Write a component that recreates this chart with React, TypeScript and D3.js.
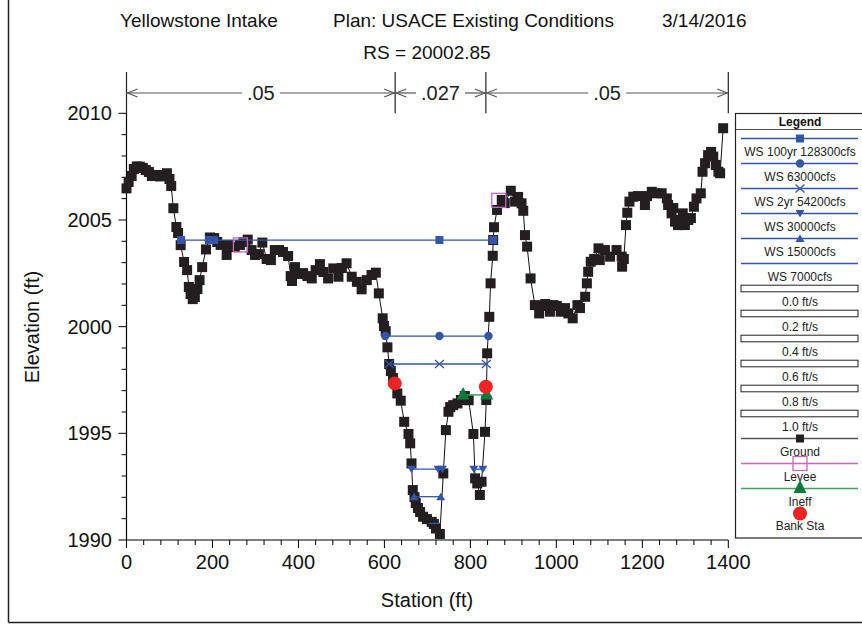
import React from 'react';
import * as d3 from 'd3';

// ---------- DATA ----------
const titleParts = ['Yellowstone Intake', 'Plan: USACE Existing Conditions', '3/14/2016'];
const subtitle = 'RS = 20002.85';
const xAxisTitle = 'Station (ft)';
const yAxisTitle = 'Elevation (ft)';

const xTicks = [0, 200, 400, 600, 800, 1000, 1200, 1400];
const yTicks = [1990, 1995, 2000, 2005, 2010];

const groundStation = [
  0, 5, 12, 17, 24, 31, 38, 45, 52, 59,
  69, 78, 87, 94, 100, 104, 109, 116, 120, 126,
  134, 141, 145, 149, 154, 159, 165, 170, 176, 185,
  194, 204, 211, 219, 233, 238, 252, 264, 272, 282,
  291, 299, 308, 316, 326, 336, 345, 355, 364, 376,
  382, 385, 392, 400, 411, 421, 431, 440, 450, 458,
  469, 481, 493, 501, 512, 524, 536, 547, 559, 570,
  580, 587, 596, 599, 603, 607, 611, 615, 620, 630,
  638, 646, 656, 660, 663, 666, 670, 673, 678, 683,
  690, 699, 710, 715, 720, 729, 737, 743, 749, 753,
  760, 770, 778, 787, 796, 807, 811, 816, 822, 826,
  834, 837, 839, 844, 847, 852, 853, 855, 862, 873,
  880, 894, 904, 911, 919, 923, 927, 932, 940, 950,
  960, 967, 974, 985, 993, 1001, 1010, 1020, 1028, 1038,
  1049, 1055, 1067, 1071, 1074, 1080, 1088, 1098, 1101, 1113,
  1125, 1140, 1152, 1153, 1157, 1162, 1165, 1170, 1179, 1190,
  1206, 1211, 1222, 1233, 1245, 1257, 1260, 1268, 1272, 1276,
  1283, 1288, 1294, 1299, 1307, 1313, 1320, 1326, 1336, 1340,
  1346, 1353, 1360, 1365, 1371, 1377, 1381, 1388,
];
const groundElevation = [
  2006.48, 2006.78, 2007.06, 2007.39, 2007.51, 2007.5, 2007.44, 2007.34, 2007.25, 2007.06,
  2007.11, 2007.04, 2007.11, 2007.19, 2006.92, 2006.59, 2005.55, 2004.67, 2004.39, 2003.82,
  2003.03, 2002.65, 2001.86, 2001.53, 2001.29, 2001.39, 2001.76, 2002.18, 2002.79, 2003.62,
  2004.18, 2004.15, 2003.97, 2003.83, 2003.36, 2003.83, 2003.73, 2003.83, 2003.97, 2004.08,
  2003.59, 2003.36, 2003.4, 2003.94, 2003.17, 2003.12, 2003.59, 2003.59, 2003.5, 2003.31,
  2002.37, 2002.14, 2002.79, 2002.47, 2002.51, 2002.37, 2002.26, 2002.65, 2002.93, 2002.56,
  2002.26, 2002.73, 2002.34, 2002.75, 2002.97, 2002.34, 2002.1, 2001.75, 2002.18, 2002.42,
  2002.53, 2001.56, 2000.39, 2000.03, 1999.79, 1999.03, 1998.25, 1997.92, 1997.59, 1996.87,
  1996.53, 1995.54, 1994.97, 1994.53, 1993.59, 1992.34, 1992.01, 1991.73, 1991.5, 1991.31,
  1991.09, 1990.98, 1990.85, 1990.75, 1990.54, 1990.28, 1993.12, 1995.15, 1996.01, 1996.23,
  1996.32, 1996.4, 1996.56, 1996.75, 1996.55, 1994.97, 1992.89, 1992.65, 1992.11, 1992.73,
  1995.07, 1996.56, 1998.75, 2000.46, 2002.03, 2003.32, 2004.06, 2004.66, 2005.47, 2005.94,
  2005.79, 2006.37, 2005.86, 2006.08, 2005.78, 2005.43, 2004.29, 2003.75, 2002.26, 2001.01,
  2000.62, 2000.97, 2001.06, 2000.7, 2001.01, 2000.97, 2000.7, 2000.87, 2000.62, 2000.39,
  2001.01, 2000.87, 2001.4, 2002.03, 2002.57, 2003.04, 2003.17, 2003.67, 2003.12, 2003.59,
  2003.28, 2003.59, 2003.28, 2002.81, 2003.17, 2004.76, 2005.34, 2005.86, 2006.09, 2006.12,
  2005.7, 2006.12, 2006.32, 2006.25, 2006.25, 2006.01, 2005.7, 2005.31, 2005.56, 2004.92,
  2004.76, 2005.0, 2005.31, 2004.76, 2005.0, 2005.09, 2005.62, 2006.01, 2006.25, 2007.26,
  2007.66, 2008.04, 2008.19, 2007.97, 2007.58, 2007.26, 2007.19, 2009.3,
];

const wsLabels = ['WS 100yr 128300cfs', 'WS 63000cfs', 'WS 2yr 54200cfs', 'WS 30000cfs', 'WS 15000cfs', 'WS 7000cfs'];
const wsElevation = [2004.06, 1999.56, 1998.25, 1993.32, 1992.03, 1990.78];
const wsSegments = [
  [[127, 853]],
  [[602, 842]],
  [[611, 837]],
  [[663, 737], [808, 829]],
  [[669, 734]],
  [[703, 731]],
];
const wsMarkerStations = [
  [127, 192, 204, 728, 853],
  [602, 728, 842],
  [611, 728, 837],
  [663, 725, 735, 808, 829],
  [669, 731],
  [],
];
const wsMarkerShapes = ['square', 'circle', 'x', 'triDown', 'triUp', 'none'];

const velocityLabels = ['0.0 ft/s', '0.2 ft/s', '0.4 ft/s', '0.6 ft/s', '0.8 ft/s', '1.0 ft/s'];

const nValues = ['.05', '.027', '.05'];
const nBreakStations = [0, 625, 836, 1400];

const leveeStation = [265, 866];
const leveeElevation = [2003.83, 2005.92];
const ineffStation = [783, 838];
const ineffElevation = [1996.8, 1996.8];
const bankStation = [624, 836];
const bankElevation = [1997.34, 1997.18];

// ---------- STYLE ----------
const FONT = "'Liberation Sans', Arial, Helvetica, sans-serif";
const WS_COLOR = '#3355aa';
const GROUND_COLOR = '#231f20';
const LEVEE_COLOR = '#c866c0';
const INEFF_LINE = '#3f9e62';
const INEFF_MARK = '#0b7a3c';
const BANK_COLOR = '#ee2424';

function WsMarker({ shape, cx, cy }: { shape: string; cx: number; cy: number }) {
  if (shape === 'square') return <rect x={cx - 4} y={cy - 4} width={8} height={8} fill={WS_COLOR} />;
  if (shape === 'circle') return <circle cx={cx} cy={cy} r={4.2} fill={WS_COLOR} />;
  if (shape === 'x')
    return (
      <g stroke={WS_COLOR} strokeWidth={1.3}>
        <line x1={cx - 4.5} y1={cy - 4} x2={cx + 4.5} y2={cy + 4} />
        <line x1={cx - 4.5} y1={cy + 4} x2={cx + 4.5} y2={cy - 4} />
      </g>
    );
  if (shape === 'triDown')
    return <polygon points={`${cx - 4.5},${cy - 3.5} ${cx + 4.5},${cy - 3.5} ${cx},${cy + 4}`} fill={WS_COLOR} />;
  if (shape === 'triUp')
    return <polygon points={`${cx - 4.5},${cy + 3.5} ${cx + 4.5},${cy + 3.5} ${cx},${cy - 4}`} fill={WS_COLOR} />;
  return null;
}

function textWidth(s: string, size: number) {
  let w = 0;
  for (const c of s) w += c === '.' ? 0.278 : 0.556;
  return w * size;
}

export default function App() {
  const x = d3.scaleLinear().domain([0, 1400]).range([126.5, 728.3]);
  const y = d3.scaleLinear().domain([1990, 2010]).range([540, 113.3]);

  const groundPts: [number, number][] = groundStation.map((s, i) => [s, groundElevation[i]]);
  const line = d3
    .line<[number, number]>()
    .x((d) => x(d[0]))
    .y((d) => y(d[1]));

  const yMinor = d3.range(1990, 2011, 1);
  const xMinor = d3.range(0, 1401, 40);

  const bracketY = 93;
  const bracketTop = 72;
  const bracketBottom = y(2010);

  const legendX = 735.5;
  const legendTop = 113.5;
  const legendBottom = 538;
  const legCx = 800;
  const legX1 = 741;
  const legX2 = 858;
  const rowY = (i: number) => 138.5 + 25 * i;

  return (
    <svg
      width={862}
      height={624}
      style={{ position: 'absolute', left: 0, top: 0, background: '#fff' }}
      fontFamily={FONT}
    >
      <rect x={0} y={0} width={862} height={624} fill="#fff" />
      {/* frame */}
      <line x1={8.5} y1={0} x2={8.5} y2={622.5} stroke="#222" strokeWidth={1.5} />
      <line x1={8.5} y1={622.5} x2={862} y2={622.5} stroke="#222" strokeWidth={1.5} />

      {/* titles */}
      <text x={120} y={27} fontSize={19} fill="#111">{titleParts[0]}</text>
      <text x={333} y={27} fontSize={19} fill="#111">{titleParts[1]}</text>
      <text x={662} y={27} fontSize={19} fill="#111">{titleParts[2]}</text>
      <text x={427} y={59} fontSize={19} fill="#111" textAnchor="middle">{subtitle}</text>

      {/* n-value bracket */}
      {nBreakStations.map((s, i) => (
        <line key={'nb' + i} x1={x(s)} x2={x(s)} y1={bracketTop} y2={bracketBottom} stroke="#222" strokeWidth={1.2} />
      ))}
      {nValues.map((v, i) => {
        const a = x(nBreakStations[i]);
        const b = x(nBreakStations[i + 1]);
        const c = (a + b) / 2;
        const half = textWidth(v, 20) / 2 + 5;
        return (
          <g key={'nv' + i}>
            <line x1={a} x2={c - half} y1={bracketY} y2={bracketY} stroke="#555" strokeWidth={1.2} />
            <line x1={c + half} x2={b} y1={bracketY} y2={bracketY} stroke="#555" strokeWidth={1.2} />
            <polyline
              points={`${a + 11},${bracketY - 4} ${a + 1},${bracketY} ${a + 11},${bracketY + 4}`}
              fill="none"
              stroke="#555"
              strokeWidth={1.1}
            />
            <polyline
              points={`${b - 11},${bracketY - 4} ${b - 1},${bracketY} ${b - 11},${bracketY + 4}`}
              fill="none"
              stroke="#555"
              strokeWidth={1.1}
            />
            <text x={c} y={bracketY + 7} fontSize={20} textAnchor="middle" fill="#222">
              {v}
            </text>
          </g>
        );
      })}

      {/* axes */}
      <line x1={x(0)} x2={x(0)} y1={y(1990)} y2={y(2010)} stroke="#000" strokeWidth={1.2} />
      <line x1={x(0)} x2={x(1400)} y1={y(1990)} y2={y(1990)} stroke="#000" strokeWidth={1.2} />
      {yMinor.map((v) => {
        const major = v % 5 === 0;
        return (
          <line key={'yt' + v} x1={x(0) - (major ? 8 : 5)} x2={x(0)} y1={y(v)} y2={y(v)} stroke="#000" strokeWidth={1} />
        );
      })}
      {yTicks.map((v) => (
        <text key={'yl' + v} x={112} y={y(v) + 7} fontSize={20} textAnchor="end" fill="#111">
          {v}
        </text>
      ))}
      {xMinor.map((v) => {
        const major = v % 200 === 0;
        return (
          <line key={'xt' + v} x1={x(v)} x2={x(v)} y1={y(1990)} y2={y(1990) + (major ? 8 : 5)} stroke="#000" strokeWidth={1} />
        );
      })}
      {xTicks.map((v) => (
        <text key={'xl' + v} x={x(v)} y={569} fontSize={20} textAnchor="middle" fill="#111">
          {v}
        </text>
      ))}
      <text x={427} y={607} fontSize={20} textAnchor="middle" fill="#111">
        {xAxisTitle}
      </text>
      <text transform="translate(39,327) rotate(-90)" fontSize={20} textAnchor="middle" fill="#111">
        {yAxisTitle}
      </text>

      {/* ground */}
      <path d={line(groundPts) || ''} fill="none" stroke="#111" strokeWidth={1} />
      {groundPts.map((d, i) => (
        <rect key={'g' + i} x={x(d[0]) - 5} y={y(d[1]) - 5} width={10} height={10} fill={GROUND_COLOR} />
      ))}

      {/* water surfaces */}
      {wsElevation.map((e, k) => (
        <g key={'ws' + k}>
          {wsSegments[k].map((seg, j) => (
            <line key={j} x1={x(seg[0])} x2={x(seg[1])} y1={y(e)} y2={y(e)} stroke={WS_COLOR} strokeWidth={1.3} />
          ))}
          {wsMarkerStations[k].map((s, j) => (
            <WsMarker key={'m' + j} shape={wsMarkerShapes[k]} cx={x(s)} cy={y(e)} />
          ))}
        </g>
      ))}

      {/* levees */}
      {leveeStation.map((s, i) => (
        <rect
          key={'lv' + i}
          x={x(s) - 7}
          y={y(leveeElevation[i]) - 7}
          width={14}
          height={14}
          fill="none"
          stroke={LEVEE_COLOR}
          strokeWidth={1.3}
        />
      ))}

      {/* ineffective */}
      <line
        x1={x(ineffStation[0])}
        x2={x(ineffStation[1])}
        y1={y(ineffElevation[0])}
        y2={y(ineffElevation[1])}
        stroke={INEFF_LINE}
        strokeWidth={1.5}
      />
      {ineffStation.map((s, i) => {
        const cx = x(s);
        const cy = y(ineffElevation[i]);
        return (
          <polygon key={'in' + i} points={`${cx - 6.5},${cy + 4.5} ${cx + 6.5},${cy + 4.5} ${cx},${cy - 8}`} fill={INEFF_MARK} />
        );
      })}

      {/* bank stations */}
      {bankStation.map((s, i) => (
        <circle key={'bs' + i} cx={x(s)} cy={y(bankElevation[i])} r={7} fill={BANK_COLOR} />
      ))}

      {/* legend */}
      <rect x={legendX} y={legendTop} width={140} height={legendBottom - legendTop} fill="#fff" stroke="#222" strokeWidth={1.2} />
      <text x={legCx} y={126} fontSize={12} fontWeight="bold" textAnchor="middle" fill="#111">
        Legend
      </text>
      <line x1={legendX} x2={862} y1={129.5} y2={129.5} stroke="#222" strokeWidth={0.8} />
      {wsLabels.map((lab, i) => (
        <g key={'lw' + i}>
          <line x1={legX1} x2={legX2} y1={rowY(i)} y2={rowY(i)} stroke={WS_COLOR} strokeWidth={1.3} />
          <WsMarker shape={wsMarkerShapes[i]} cx={legCx} cy={rowY(i)} />
          <text x={legCx} y={rowY(i) + 17} fontSize={12} textAnchor="middle" fill="#222">
            {lab}
          </text>
        </g>
      ))}
      {velocityLabels.map((lab, j) => {
        const i = j + 6;
        return (
          <g key={'lvel' + j}>
            <rect x={legX1} y={rowY(i) - 3.3} width={legX2 - legX1} height={6.6} fill="#fff" stroke="#222" strokeWidth={1} />
            <text x={legCx} y={rowY(i) + 17} fontSize={12} textAnchor="middle" fill="#222">
              {lab}
            </text>
          </g>
        );
      })}
      {/* Ground */}
      <line x1={legX1} x2={legX2} y1={rowY(12)} y2={rowY(12)} stroke="#555" strokeWidth={1.3} />
      <rect x={legCx - 4} y={rowY(12) - 4} width={8} height={8} fill={GROUND_COLOR} />
      <text x={legCx} y={rowY(12) + 17} fontSize={12} textAnchor="middle" fill="#222">Ground</text>
      {/* Levee */}
      <line x1={legX1} x2={legX2} y1={rowY(13)} y2={rowY(13)} stroke={LEVEE_COLOR} strokeWidth={1.3} />
      <rect x={legCx - 7} y={rowY(13) - 7} width={14} height={14} fill="none" stroke={LEVEE_COLOR} strokeWidth={1.3} />
      <text x={legCx} y={rowY(13) + 17} fontSize={12} textAnchor="middle" fill="#222">Levee</text>
      {/* Ineff */}
      <line x1={legX1} x2={legX2} y1={rowY(14)} y2={rowY(14)} stroke={INEFF_LINE} strokeWidth={1.5} />
      <polygon
        points={`${legCx - 6.5},${rowY(14) + 4.5} ${legCx + 6.5},${rowY(14) + 4.5} ${legCx},${rowY(14) - 8.5}`}
        fill={INEFF_MARK}
      />
      <text x={legCx} y={rowY(14) + 17} fontSize={12} textAnchor="middle" fill="#222">Ineff</text>
      {/* Bank Sta */}
      <circle cx={legCx} cy={rowY(15)} r={7} fill={BANK_COLOR} />
      <text x={legCx} y={rowY(15) + 16.5} fontSize={12} textAnchor="middle" fill="#222">Bank Sta</text>
    </svg>
  );
}
